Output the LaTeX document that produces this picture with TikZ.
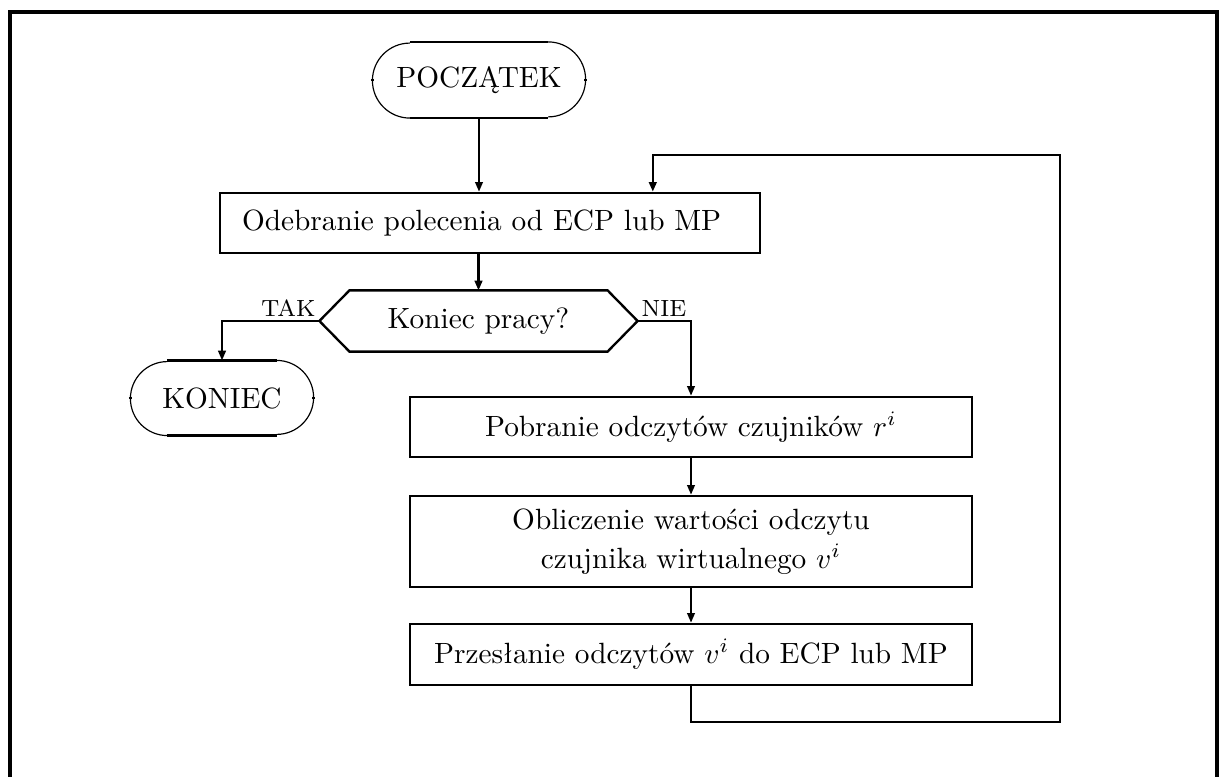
\documentclass[tikz,border=0pt]{standalone}
\usetikzlibrary{calc,arrows.meta}
% one drawing unit = one pixel of the final sheet
\newcommand\pxu{0.3413pt}
% rounded terminal: thick straight edges, thin half-circle ends
\newcommand\drawterm[2]{%
  \draw[termstraight] ($(#1.north west)+(#2,0)$) -- ($(#1.north east)+(-#2,0)$);
  \draw[termstraight] ($(#1.south west)+(#2,0)$) -- ($(#1.south east)+(-#2,0)$);
  \draw[termcurve] ($(#1.north east)+(-#2,0)$) arc[start angle=90,end angle=-90,radius=#2*\pxu];
  \draw[termcurve] ($(#1.south west)+(#2,0)$) arc[start angle=270,end angle=90,radius=#2*\pxu];
  \draw[termstraight] ($(#1.west)+(-1.5,0)$) -- ($(#1.west)+(1.5,0)$);
  \draw[termstraight] ($(#1.east)+(-1.5,0)$) -- ($(#1.east)+(1.5,0)$);
}
\begin{document}
\begin{tikzpicture}[x=\pxu, y=-\pxu,
  flow/.style={line width=0.7pt, -{Triangle[length=3.3pt,width=2.6pt]}},
  loopline/.style={line width=0.85pt, -{Triangle[length=3.3pt,width=2.6pt]}},
  procbox/.style={draw, line width=0.9pt, minimum width=562*\pxu,
    minimum height=61*\pxu, inner sep=0pt, align=center},
  termnode/.style={inner sep=0pt},
  termstraight/.style={line width=0.9pt},
  termcurve/.style={line width=0.4pt},
  lab/.style={font=\footnotesize, inner sep=1.2pt},
  framepen/.style={line width=1.1pt}]

\useasboundingbox (0,0) rectangle (1220,777);
\clip (0,0) rectangle (1220,777);

% outer frame, open past the lower edge
\draw[framepen] (10,800) -- (10,12) -- (1217,12) -- (1217,800);

% nodes
\node[termnode, minimum width=212*\pxu, minimum height=75*\pxu] (s) at (479,80) {POCZĄTEK};
\node[procbox, minimum width=540*\pxu, minimum height=60*\pxu,
      text width=496*\pxu, inner xsep=22*\pxu, align=left] (b1) at (490,223)
      {Odebranie polecenia od ECP lub MP};
\node[inner sep=0pt, minimum width=317*\pxu, minimum height=60*\pxu] (d) at (478.5,321) {Koniec pracy?};
\node[termnode, minimum width=182*\pxu, minimum height=74*\pxu] (k) at (222,398) {KONIEC};
\node[procbox, minimum height=60*\pxu] (p1) at (691,427) {Pobranie odczytów czujników $r^i$};
\node[procbox, minimum height=91*\pxu] (p2) at (691,541.5)
      {Obliczenie wartości odczytu\\[1.5pt] czujnika wirtualnego $v^i$};
\node[procbox, minimum height=61*\pxu] (p3) at (691,654.5) {Przesłanie odczytów $v^i$ do ECP lub MP};

% terminal outlines
\drawterm{s}{37.5}
\drawterm{k}{37}

% decision hexagon
\draw[line width=0.8pt] (d.west) -- ($(d.north west)+(30,0)$) -- ($(d.north east)+(-30,0)$)
  -- (d.east) -- ($(d.south east)+(-30,0)$) -- ($(d.south west)+(30,0)$) -- cycle;

% branch labels
\node[lab, anchor=south east] (tak) at (d.west) {TAK};
\node[lab, anchor=south west] (nie) at (d.east) {NIE};

% connectors
\draw[flow] (s.south) -- (s.south |- b1.north);
\draw[flow] (d.north |- b1.south) -- (d.north);
\draw[flow] (d.west) -| (k.north);
\draw[flow] (d.east) -| (p1.north);
\draw[flow] (p1.south) -- (p2.north);
\draw[flow] (p2.south) -- (p3.north);

% return loop
\coordinate (lb) at (1060,722);
\coordinate (lt) at (1060,155);
\draw[loopline] (p3.south) |- (lb) -- (lt) -| ($(b1.north west)!0.8!(b1.north east)$);

\end{tikzpicture}
\end{document}
